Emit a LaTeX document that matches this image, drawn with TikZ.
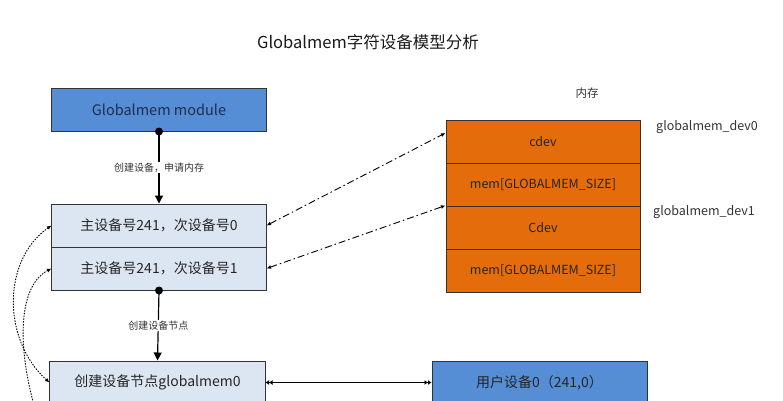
\documentclass[tikz,border=0pt]{standalone}
\usepackage{fontspec}
\setmainfont{Noto Sans CJK SC}
\usetikzlibrary{arrows.meta,positioning}

\definecolor{modblue}{HTML}{558ED5}
\definecolor{paleblue}{HTML}{DCE6F2}
\definecolor{memorange}{HTML}{E46C0A}
\definecolor{navytext}{HTML}{1F2D4E}
\definecolor{graytext}{HTML}{333333}

\begin{document}
\begin{tikzpicture}[x=1bp,y=-1bp,
  box/.style={draw=black!80, line width=1bp, minimum width=214bp, minimum height=43bp, inner sep=0pt, font=\fontsize{14bp}{17bp}\selectfont, text=black!85},
  membox/.style={box, fill=memorange, minimum width=194bp, font=\fontsize{12.5bp}{15bp}\selectfont},
  steplabel/.style={fill=white, inner sep=1bp, font=\fontsize{10bp}{12bp}\selectfont, text=graytext},
  sidelabel/.style={anchor=west, inner sep=0pt, font=\fontsize{12.5bp}{15bp}\selectfont, text=graytext},
  dot/.style={circle, fill=black, inner sep=0pt, minimum size=8bp},
  flow/.style={line width=1.2bp, -{Triangle[length=8bp,width=8bp]}},
  link/.style={line width=0.9bp, dash pattern=on 7bp off 3bp on 1.5bp off 3bp, {Latex[length=4.5bp,width=4bp]}-{Latex[length=4.5bp,width=4bp]}},
  curve/.style={line width=0.9bp, dash pattern=on 1.5bp off 1.3bp, {Latex[length=4.5bp,width=4bp]}-{Latex[length=4.5bp,width=4bp]}},
  pair/.style={line width=1.1bp, {Latex[length=3.5bp,width=5bp]Latex[length=3.5bp,width=5bp]}-{Latex[length=3.5bp,width=5bp]Latex[length=3.5bp,width=5bp]}}
]
  % Picture frame
  \useasboundingbox (0,0) rectangle (783,400);
  \clip (0,0) rectangle (783,400);

  % Title
  \node[font=\fontsize{16.5bp}{20bp}\selectfont, text=black!90] (title) at (368,42) {Globalmem字符设备模型分析};

  % Module and device numbers
  \node[box, fill=modblue, text=navytext, font=\fontsize{14.5bp}{17bp}\selectfont] (module) at (159,109.5) {Globalmem module};
  \node[box, fill=paleblue] (major0) at (159,225.5) {主设备号241，次设备号0};
  \node[box, fill=paleblue] (major1) at (159,268.5) {主设备号241，次设备号1};

  % Device nodes (cut by the frame)
  \node[box, fill=paleblue, minimum width=215bp] (devnode0) at (157.5,382.5) {创建设备节点globalmem0};
  \node[box, fill=modblue, minimum width=215bp] (user0) at (539.5,382.5) {用户设备0（241,0）};
  \coordinate (devnode1) at (50,450);

  % Memory
  \node[font=\fontsize{11.5bp}{14bp}\selectfont, text=graytext] (memtitle) at (587,93) {内存};
  \foreach \i/\txt in {0/cdev,1/{mem[GLOBALMEM\_SIZE]},2/Cdev,3/{mem[GLOBALMEM\_SIZE]}} {
    \node[membox] (mem\i) at (543,{141.5+43*\i}) {\txt};
  }
  \node[sidelabel] (dev0) at (656,127) {globalmem\_dev0};
  \node[sidelabel] (dev1) at (653,212) {globalmem\_dev1};

  % Flow down the left column
  \node[dot] (moddot) at (module.south) {};
  \draw[flow] (moddot.center) -- node[steplabel] {创建设备，申请内存} (major0.north);
  \node[dot] (majdot) at (major1.south) {};
  \draw[flow] (majdot.center) -- node[steplabel] {创建设备节点} (devnode0.north);

  % Links to memory
  \draw[link] (major0.east) -- ([yshift=8.5bp]mem0.west);
  \draw[link] (major1.east) -- (mem2.north west);

  % Node to user device
  \draw[pair] (devnode0.east) -- (user0.west);

  % Dotted links on the left
  \draw[curve] (major0.west) .. controls (2,260) and (2,340) .. (devnode0.west);
  \draw[curve] (major1.west) .. controls (10,290) and (20,380) .. (devnode1);

\end{tikzpicture}
\end{document}
